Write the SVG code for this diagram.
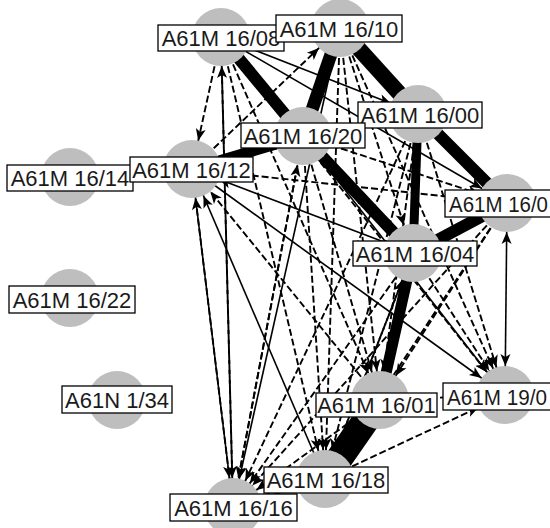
<svg xmlns="http://www.w3.org/2000/svg" width="550" height="528" viewBox="0 0 550 528">
<style>
#edges line{stroke:#000;fill:none}
.d{stroke-width:1.9;stroke-dasharray:7 3;marker-end:url(#a)}
.s{stroke-width:1.6;marker-end:url(#a)}
.b{stroke-width:1.6;marker-end:url(#a);marker-start:url(#r)}
.n circle{fill:#bebebe}
.n rect{fill:#fff;stroke:#000;stroke-width:1.3}
.n text{font-family:"Liberation Sans",Arial,sans-serif;font-size:22px;text-anchor:middle;fill:#1a1a1a}
</style>
<defs>
<marker id="a" markerUnits="userSpaceOnUse" orient="auto" refX="29" refY="0" overflow="visible"><path d="M-12,-5 L0,0 L-12,5 L-9,0 z" fill="#000"/></marker>
<marker id="r" markerUnits="userSpaceOnUse" orient="auto-start-reverse" refX="29" refY="0" overflow="visible"><path d="M-12,-5 L0,0 L-12,5 L-9,0 z" fill="#000"/></marker>
</defs>
<g id="edges">
<line x1="221" y1="37" x2="303" y2="136" stroke-width="12"/>
<line x1="340" y1="28" x2="303" y2="136" stroke-width="13"/>
<line x1="340" y1="28" x2="418" y2="114" stroke-width="16"/>
<line x1="418" y1="114" x2="507" y2="203" stroke-width="12"/>
<line x1="418" y1="114" x2="413" y2="253" stroke-width="9"/>
<line x1="303" y1="136" x2="413" y2="253" stroke-width="12"/>
<line x1="413" y1="253" x2="507" y2="203" stroke-width="12"/>
<line x1="192" y1="169" x2="303" y2="136" stroke-width="11"/>
<line x1="413" y1="253" x2="380" y2="400" stroke-width="11"/>
<line x1="325" y1="479" x2="380" y2="400" stroke-width="27"/>
<line class="d" x1="221" y1="37" x2="192" y2="169"/>
<line class="d" x1="221" y1="37" x2="233" y2="507"/>
<line class="d" x1="221" y1="37" x2="325" y2="479"/>
<line class="d" x1="221" y1="37" x2="380" y2="400"/>
<line class="d" x1="221" y1="37" x2="413" y2="253"/>
<line class="s" x1="221" y1="37" x2="507" y2="203"/>
<line class="s" x1="221" y1="37" x2="418" y2="114"/>
<line class="d" x1="221" y1="37" x2="505" y2="395"/>
<line class="d" x1="192" y1="169" x2="340" y2="28"/>
<line class="s" x1="340" y1="28" x2="233" y2="507"/>
<line class="d" x1="340" y1="28" x2="325" y2="479"/>
<line class="d" x1="340" y1="28" x2="380" y2="400"/>
<line class="d" x1="340" y1="28" x2="413" y2="253"/>
<line class="d" x1="340" y1="28" x2="507" y2="203"/>
<line class="d" x1="340" y1="28" x2="505" y2="395"/>
<line class="d" x1="192" y1="169" x2="418" y2="114"/>
<line class="d" x1="303" y1="136" x2="418" y2="114"/>
<line class="d" x1="418" y1="114" x2="233" y2="507"/>
<line class="d" x1="418" y1="114" x2="325" y2="479"/>
<line class="d" x1="418" y1="114" x2="380" y2="400"/>
<line class="d" x1="418" y1="114" x2="505" y2="395"/>
<line class="d" x1="192" y1="169" x2="507" y2="203"/>
<line class="d" x1="303" y1="136" x2="507" y2="203"/>
<line class="d" x1="507" y1="203" x2="233" y2="507"/>
<line class="d" x1="507" y1="203" x2="325" y2="479"/>
<line class="d" x1="507" y1="203" x2="380" y2="400"/>
<line class="b" x1="507" y1="203" x2="505" y2="395"/>
<line class="s" x1="413" y1="253" x2="192" y2="169"/>
<line class="d" x1="413" y1="253" x2="233" y2="507"/>
<line class="d" x1="413" y1="253" x2="325" y2="479"/>
<line class="d" x1="413" y1="253" x2="505" y2="395"/>
<line class="d" x1="303" y1="136" x2="233" y2="507"/>
<line class="d" x1="303" y1="136" x2="325" y2="479"/>
<line class="d" x1="303" y1="136" x2="380" y2="400"/>
<line class="s" x1="303" y1="136" x2="505" y2="395"/>
<line class="d" x1="192" y1="169" x2="233" y2="507"/>
<line class="s" x1="233" y1="507" x2="192" y2="169"/>
<line class="s" x1="325" y1="479" x2="192" y2="169"/>
<line class="d" x1="380" y1="400" x2="192" y2="169"/>
<line class="s" x1="192" y1="169" x2="505" y2="395"/>
<line class="s" x1="325" y1="479" x2="233" y2="507"/>
<line class="d" x1="380" y1="400" x2="233" y2="507"/>
<line class="d" x1="233" y1="507" x2="221" y2="37"/>
<line class="d" x1="325" y1="479" x2="505" y2="395"/>
<line class="d" x1="380" y1="400" x2="505" y2="395"/>
<line class="d" x1="233" y1="507" x2="303" y2="136"/>
<line class="d" x1="325" y1="479" x2="413" y2="253"/>
</g>
<g id="n-16-14" class="n"><circle cx="70" cy="177" r="29"/><rect x="7" y="165" width="126" height="26"/><text x="70" y="186">A61M 16/14</text></g>
<g id="n-16-22" class="n"><circle cx="70" cy="298" r="29"/><rect x="9" y="286" width="126" height="27"/><text x="72" y="308">A61M 16/22</text></g>
<g id="n-1-34" class="n"><circle cx="117" cy="400" r="29"/><rect x="62" y="386" width="110" height="27"/><text x="117" y="408">A61N 1/34</text></g>
<g id="n-16-08" class="n"><circle cx="221" cy="37" r="29"/><rect x="158" y="25" width="126" height="26"/><text x="221" y="46">A61M 16/08</text></g>
<g id="n-16-10" class="n"><circle cx="340" cy="28" r="29"/><rect x="276" y="15" width="126" height="27"/><text x="339" y="37">A61M 16/10</text></g>
<g id="n-16-00" class="n"><circle cx="418" cy="114" r="29"/><rect x="358" y="102" width="124" height="26"/><text x="420" y="123">A61M 16/00</text></g>
<g id="n-16-20" class="n"><circle cx="303" cy="136" r="29"/><rect x="241" y="123" width="124" height="25"/><text x="303" y="144">A61M 16/20</text></g>
<g id="n-16-12" class="n"><circle cx="192" cy="169" r="29"/><rect x="130" y="157" width="123" height="25"/><text x="191.5" y="178">A61M 16/12</text></g>
<g id="n-16-0x" class="n"><circle cx="507" cy="203" r="29"/><rect x="445" y="190" width="126" height="27"/><text x="449" y="212" style="text-anchor:start" textLength="99" lengthAdjust="spacingAndGlyphs">A61M 16/0</text></g>
<g id="n-16-04" class="n"><circle cx="413" cy="253" r="29"/><rect x="353" y="241" width="124" height="25"/><text x="415" y="262">A61M 16/04</text></g>
<g id="n-16-01" class="n"><circle cx="380" cy="400" r="29"/><rect x="316" y="393" width="121" height="24"/><text x="376.5" y="413">A61M 16/01</text></g>
<g id="n-19-0x" class="n"><circle cx="505" cy="395" r="29"/><rect x="443" y="383" width="126" height="27"/><text x="447" y="405" style="text-anchor:start" textLength="100" lengthAdjust="spacingAndGlyphs">A61M 19/0</text></g>
<g id="n-16-18" class="n"><circle cx="325" cy="479" r="29"/><rect x="264" y="467" width="124" height="26"/><text x="326" y="488">A61M 16/18</text></g>
<g id="n-16-16" class="n"><circle cx="233" cy="507" r="29"/><rect x="170" y="494" width="127" height="27"/><text x="233.5" y="516">A61M 16/16</text></g>
</svg>
